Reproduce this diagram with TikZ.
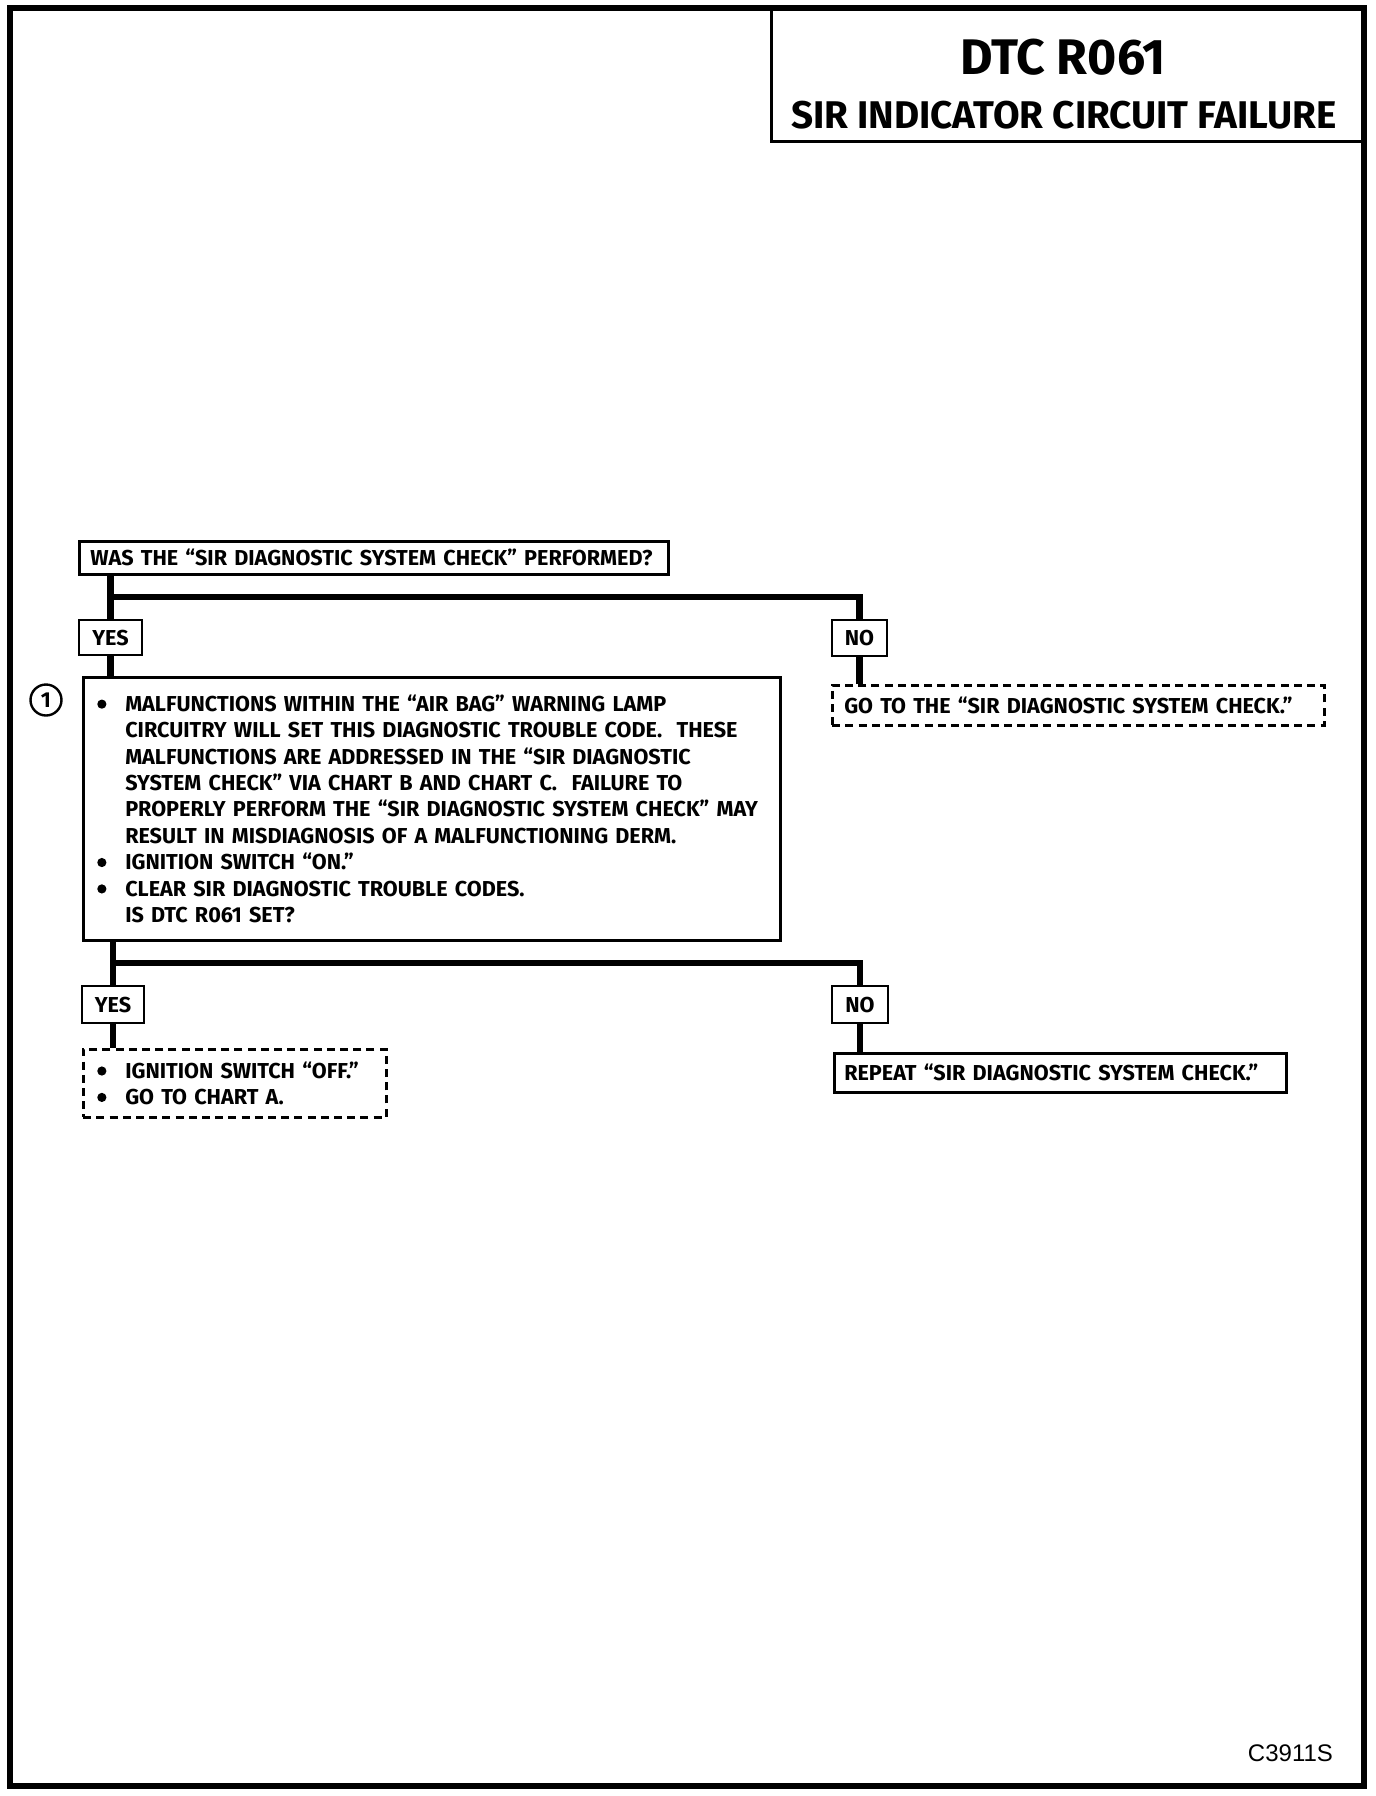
\documentclass[tikz,border=0pt]{standalone}
\usepackage{fontspec}
\setmainfont{Fira Sans}
\newfontfamily\codefont{Liberation Sans}
\usetikzlibrary{positioning}
\newcommand{\bul}{\makebox[14pt][l]{\tikz[baseline=0pt]\fill (2.3pt,0.33em) circle (2.3pt);}}
\newcommand{\ind}{\hspace*{14pt}}

\begin{document}
\begin{tikzpicture}[x=0.5pt,y=-0.5pt,
  font=\bfseries\fontsize{10.8}{13.2}\selectfont,
  box/.style={draw,line width=1.25pt,align=left,anchor=north west,
    inner xsep=6pt,inner ysep=0pt},
  dbox/.style={box,dash pattern=on 4pt off 2.6pt},
  tag/.style={draw,line width=1.25pt,inner sep=0pt},
  flow/.style={line width=3.2pt}]

  \useasboundingbox (0,0) rectangle (1376,1796);
  \draw[line width=2.6pt] (10,8) rectangle (1364,1786);

  \node[draw,line width=1.3pt,anchor=north east,minimum width=295.5pt,
    minimum height=66pt] (title) at (1364,8) {};
  \node[font=\bfseries\fontsize{25}{30}\selectfont] (dtc) at (1063,57) {DTC R061};
  \node[font=\bfseries\fontsize{19.3}{22}\selectfont] (sirfail) at (1064,115)
    {SIR INDICATOR CIRCUIT FAILURE};

  \node[box,inner xsep=5.5pt,text width=283.5pt,minimum height=16.5pt] (q1) at (78,540)
    {WAS THE ``SIR DIAGNOSTIC SYSTEM CHECK'' PERFORMED?};
  \node[tag,minimum width=31.5pt,minimum height=17.5pt] (yes1) at (110.5,637.5) {YES};
  \node[tag,minimum width=27.5pt,minimum height=18pt] (no1) at (859.5,638) {NO};
  \node[dbox,text width=234pt,minimum height=20pt] (goto1) at (831,684)
    {GO TO THE ``SIR DIAGNOSTIC SYSTEM CHECK.''};

  \node[box,inner xsep=7pt,text width=334.5pt,minimum height=131.5pt] (step1) at (82,676)
    {\bul MALFUNCTIONS WITHIN THE ``AIR BAG'' WARNING LAMP\\
     \ind CIRCUITRY WILL SET THIS DIAGNOSTIC TROUBLE CODE.\ \ THESE\\
     \ind MALFUNCTIONS ARE ADDRESSED IN THE ``SIR DIAGNOSTIC\\
     \ind SYSTEM CHECK'' VIA CHART B AND CHART C.\ \ FAILURE TO\\
     \ind PROPERLY PERFORM THE ``SIR DIAGNOSTIC SYSTEM CHECK'' MAY\\
     \ind RESULT IN MISDIAGNOSIS OF A MALFUNCTIONING DERM.\\
     \bul IGNITION SWITCH ``ON.''\\
     \bul CLEAR SIR DIAGNOSTIC TROUBLE CODES.\\
     \ind IS DTC R061 SET?};
  \node[circle,draw,line width=1.2pt,minimum size=15.5pt,inner sep=0pt] (num1) at (46,700) {1};

  \node[tag,minimum width=31pt,minimum height=18.5pt] (yes2) at (113,1004.5) {YES};
  \node[tag,minimum width=28pt,minimum height=18.5pt] (no2) at (860,1004.5) {NO};
  \node[dbox,inner xsep=7pt,text width=137.5pt,minimum height=34pt] (act2) at (82,1048)
    {\bul IGNITION SWITCH ``OFF.''\\
     \bul GO TO CHART A.};
  \node[box,inner xsep=5pt,text width=216pt,minimum height=19.5pt] (rep2) at (833,1052)
    {REPEAT ``SIR DIAGNOSTIC SYSTEM CHECK.''};

  % first question
  \coordinate (fork1) at (110.5,597);
  \draw[flow] (q1.south -| yes1.north) -- (yes1.north);
  \draw[flow] (fork1) -| (no1.north);
  \draw[flow] (yes1.south) -- (yes1.south |- step1.north);
  \draw[flow] (no1.south) -- (no1.south |- goto1.north);

  % second question
  \coordinate (fork2) at (113,963);
  \draw[flow] (step1.south -| yes2.north) -- (yes2.north);
  \draw[flow] (fork2) -| (no2.north);
  \draw[flow] (yes2.south) -- (yes2.south |- act2.north);
  \draw[flow] (no2.south) -- (no2.south |- rep2.north);

  \node[font=\codefont\fontsize{12}{14}\selectfont,anchor=east] (code) at (1340,1753) {C3911S};
\end{tikzpicture}
\end{document}
